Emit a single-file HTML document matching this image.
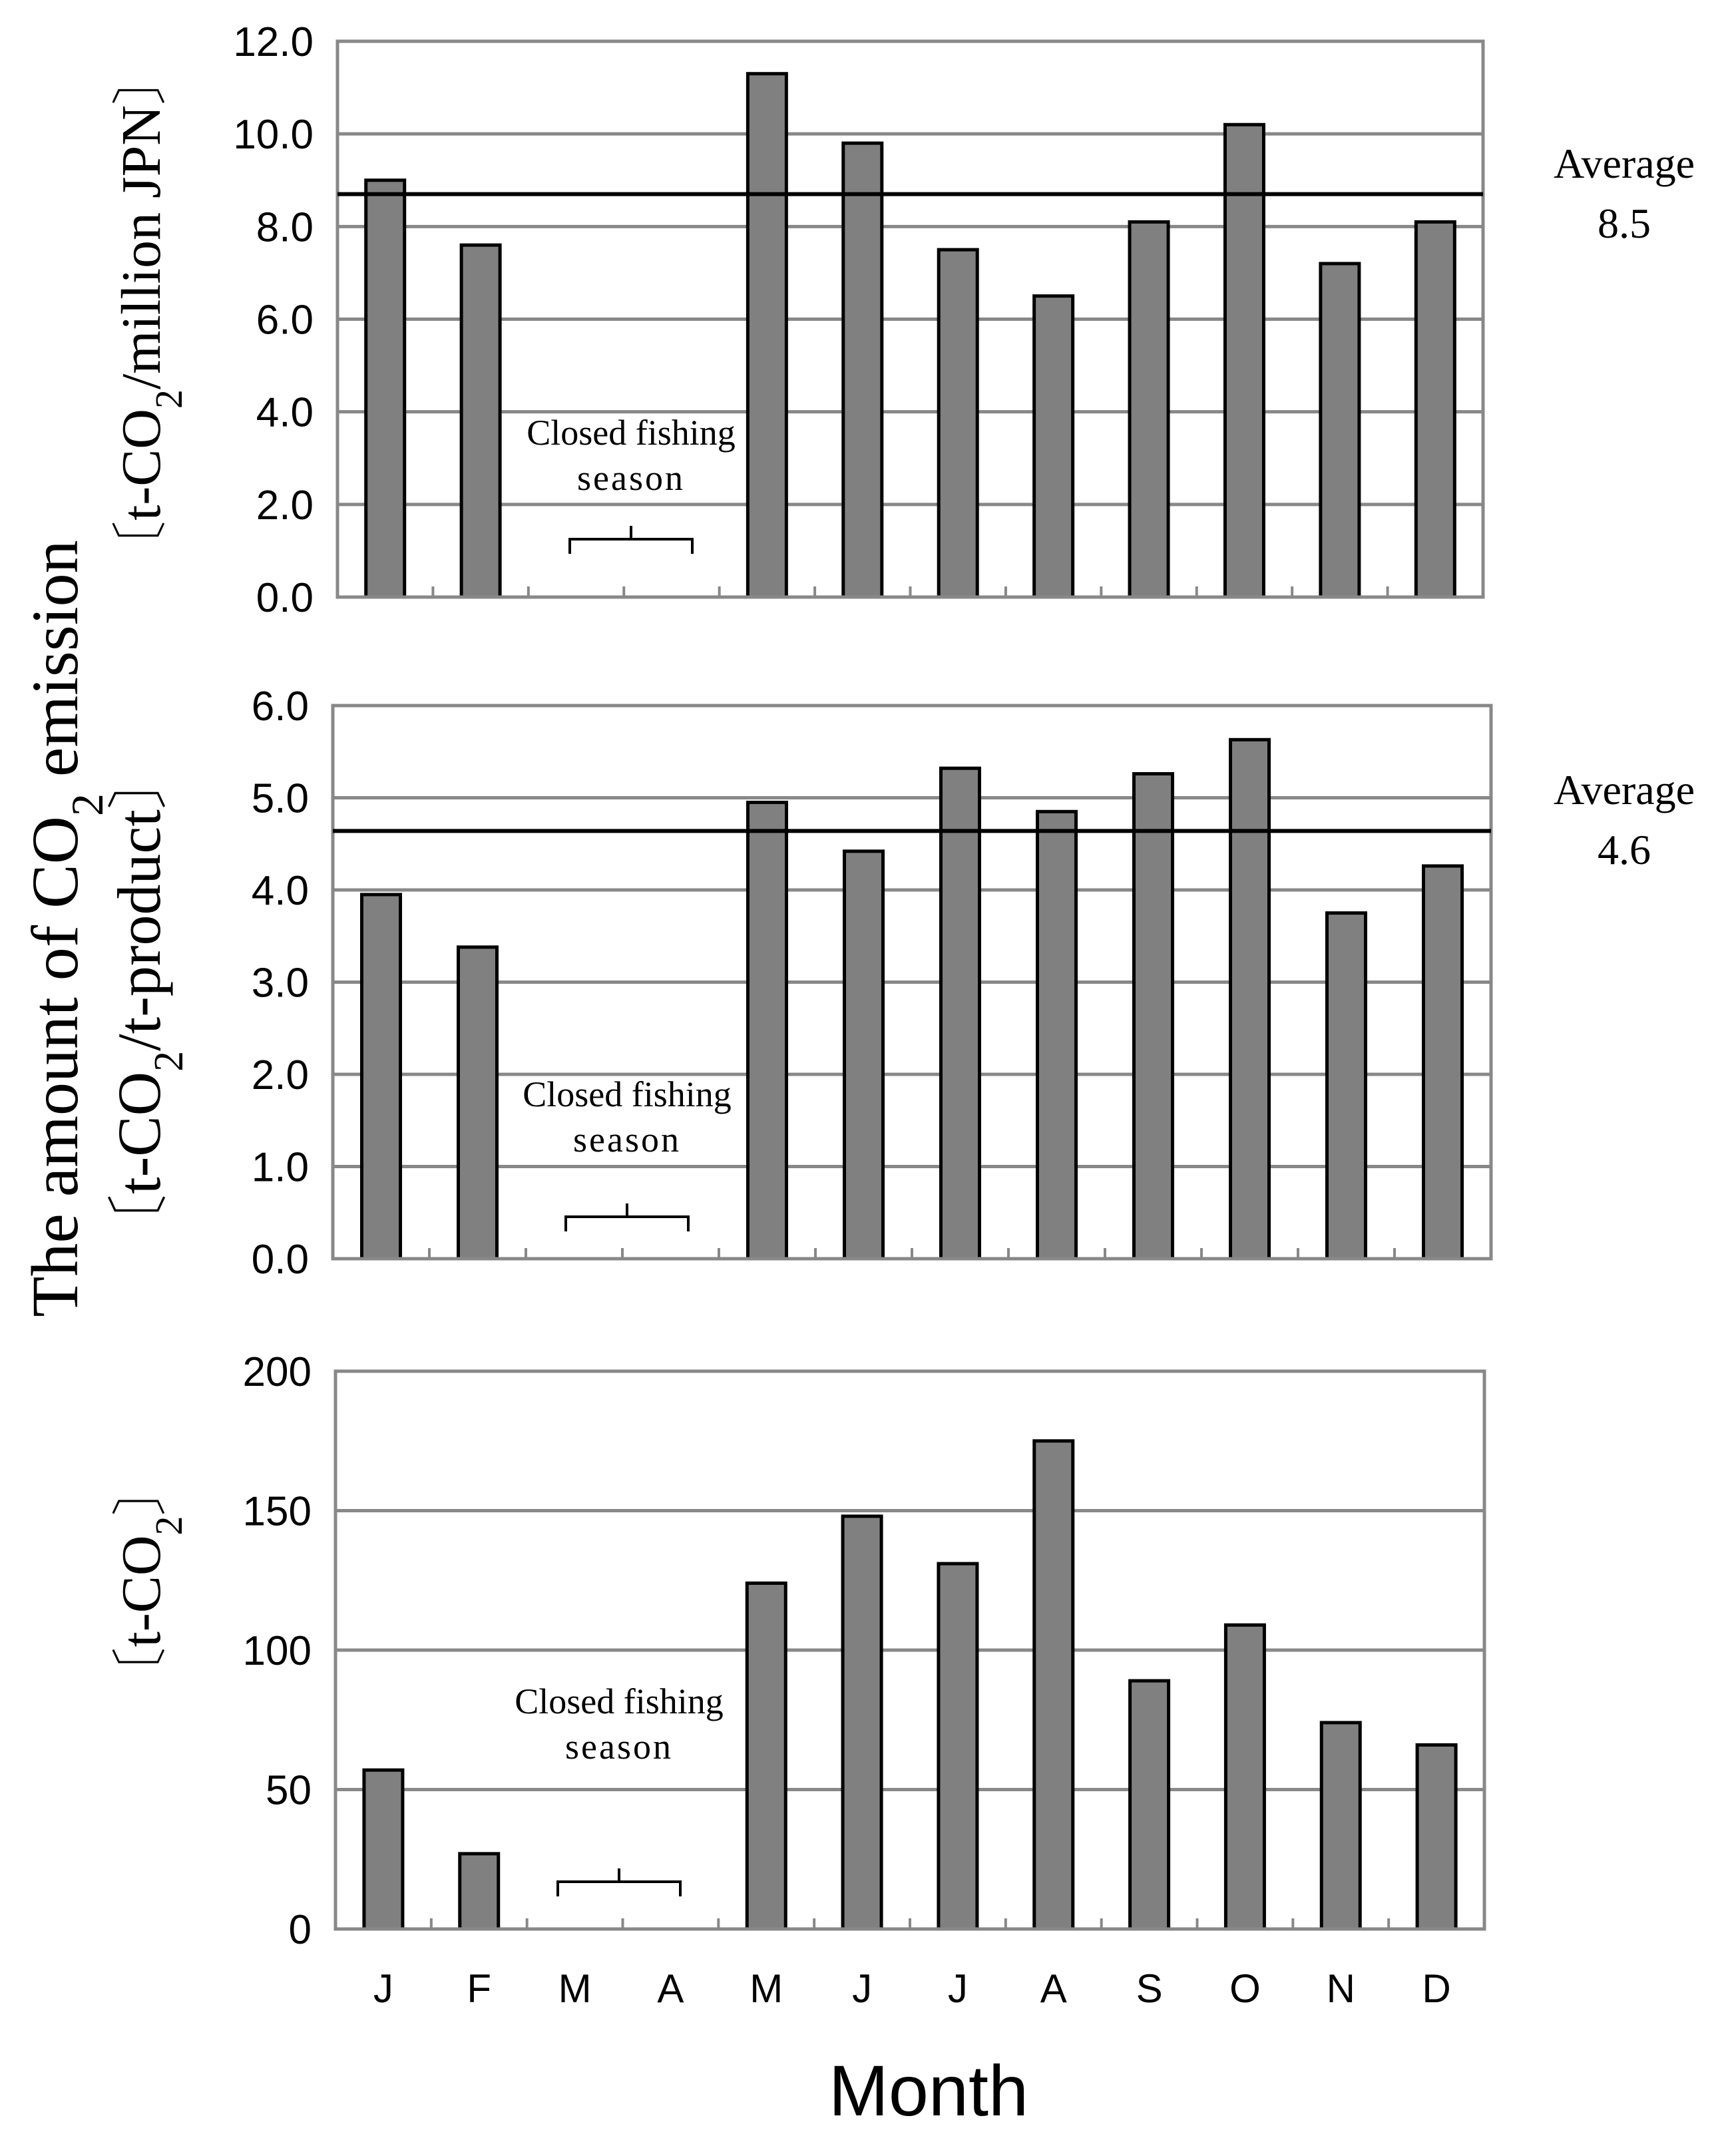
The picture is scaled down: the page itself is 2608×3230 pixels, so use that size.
<!DOCTYPE html>
<html><head><meta charset="utf-8"><style>
html,body{margin:0;padding:0;background:#fff;}
svg{display:block;}
.tk{font-family:"Liberation Sans",sans-serif;fill:#000;}
.sf{font-family:"Liberation Serif","Noto Serif CJK SC",serif;fill:#000;}
</style></head><body>
<svg id="chart" width="2608" height="3230" viewBox="0 0 2608 3230" xmlns="http://www.w3.org/2000/svg"></svg>
<script>
const months = ["J","F","M","A","M","J","J","A","S","O","N","D"];
const intensityJPN = [9.0, 7.6, null, null, 11.3, 9.8, 7.5, 6.5, 8.1, 10.2, 7.2, 8.1];
const intensityProduct = [3.95, 3.38, null, null, 4.95, 4.42, 5.32, 4.85, 5.26, 5.63, 3.75, 4.26];
const totalCO2 = [57, 27, null, null, 124, 148, 131, 175, 89, 109, 74, 66];
const avgJPN = 8.7;
const avgProduct = 4.64;
const ticksJPN = ["0.0","2.0","4.0","6.0","8.0","10.0","12.0"];
const ticksProduct = ["0.0","1.0","2.0","3.0","4.0","5.0","6.0"];
const ticksTotal = ["0","50","100","150","200"];

const svg = document.getElementById('chart');
const NS = "http://www.w3.org/2000/svg";
function mk(tag, attrs, parent){
  const e = document.createElementNS(NS, tag);
  for (const k in attrs) e.setAttribute(k, attrs[k]);
  (parent||svg).appendChild(e);
  return e;
}

function panel(cfg){
  const g = mk('g', {});
  
  
  const {x0,x1,y0,y1,max,ticks,values} = cfg;
  const ys = v => y1 - (v/max)*(y1-y0);
  const bw = (x1-x0)/values.length;
  const xs = i => x0 + (i+0.5)*bw;
  ticks.forEach(t=>{
    const y = ys(parseFloat(t));
    if (y > y0+2 && y < y1-2){
      const l = mk('line',{x1:x0,x2:x1,y1:y,y2:y,stroke:'#888','stroke-width':5},g);
      
      
    }
    const tx = mk('text',{x:x0-36,y:y+22,'text-anchor':'end',class:'tk','font-size':62},g);
    tx.textContent = t;
    
    
  });
  for (let i=1;i<values.length;i++){
    const x = x0+i*bw;
    const m = mk('line',{x1:x,x2:x,y1:y1-16,y2:y1,stroke:'#888','stroke-width':4},g);
    
    
  }
  values.forEach((v,i)=>{
    if (v==null) return;
    const r = mk('rect',{x:xs(i)-29,y:ys(v),width:58,height:y1-ys(v),fill:'#808080',stroke:'#000','stroke-width':5},g);
    
    
  });
  const fr = mk('rect',{x:x0,y:y0,width:x1-x0,height:y1-y0,fill:'none',stroke:'#888','stroke-width':5},g);
  
  
  if (cfg.avg!=null){
    const a = mk('line',{x1:x0,x2:x1,y1:ys(cfg.avg),y2:ys(cfg.avg),stroke:'#000','stroke-width':6},g);
    
    
  }
  const cx = cfg.ann.cx;
  const t1 = mk('text',{x:cx,y:cfg.ann.ty,'text-anchor':'middle',class:'sf','font-size':54},g);
  t1.textContent = 'Closed fishing';
  
  
  const t2 = mk('text',{x:cx,y:cfg.ann.ty+68,'text-anchor':'middle',class:'sf','font-size':54,'letter-spacing':3},g);
  t2.textContent = 'season';
  
  
  const by = cfg.ann.by;
  const p = mk('path',{d:`M${cx-92} ${by+22} V${by} H${cx+92} V${by+22} M${cx} ${by} V${by-20}`,fill:'none',stroke:'#000','stroke-width':4},g);
  
  
  return {xs};
}

panel({name:'panel-intensity-jpn',x0:507,x1:2228,y0:62,y1:897,max:12,ticks:ticksJPN,values:intensityJPN,avg:avgJPN,ann:{cx:948,ty:668,by:810}});
panel({name:'panel-intensity-product',x0:500,x1:2240,y0:1060,y1:1891,max:6,ticks:ticksProduct,values:intensityProduct,avg:avgProduct,ann:{cx:942,ty:1662,by:1828}});
const p3 = panel({name:'panel-total-co2',x0:504,x1:2230,y0:2060,y1:2898,max:200,ticks:ticksTotal,values:totalCO2,avg:null,ann:{cx:930,ty:2574,by:2827}});

months.forEach((m,i)=>{
  const t = mk('text',{x:p3.xs(i),y:3008,'text-anchor':'middle',class:'tk','font-size':60});
  t.textContent = m;
  
  
});
const xt = mk('text',{x:1395,y:3178,'text-anchor':'middle',class:'tk','font-size':108});
xt.textContent='Month';



function avgLabel(name, cy, val){
  const a = mk('text',{x:2440,y:cy,'text-anchor':'middle',class:'sf','font-size':64});
  a.textContent='Average';
  
  
  const b = mk('text',{x:2440,y:cy+90,'text-anchor':'middle',class:'sf','font-size':64});
  b.textContent=val;
  
  
}
avgLabel('average-label-jpn',267,'8.5');
avgLabel('average-label-product',1208,'4.6');

function rotText(name, x, y, html, size){
  const t = mk('text',{x:0,y:0,transform:`translate(${x},${y}) rotate(-90)`,'text-anchor':'middle',class:'sf','font-size':size});
  t.innerHTML = html;
  
  
}
rotText('y-axis-title',116,1395,'The amount of CO<tspan baseline-shift="sub" font-size="68">2</tspan> emission',100);
rotText('y-unit-jpn',240,470,'〔t-CO<tspan baseline-shift="sub" font-size="58">2</tspan>/million JPN〕',84);
rotText('y-unit-product',240,1505,'〔t-CO<tspan baseline-shift="sub" font-size="62">2</tspan>/t-product〕',92);
rotText('y-unit-total',240,2376,'〔t-CO<tspan baseline-shift="sub" font-size="58">2</tspan>〕',84);
</script>
</body></html>
